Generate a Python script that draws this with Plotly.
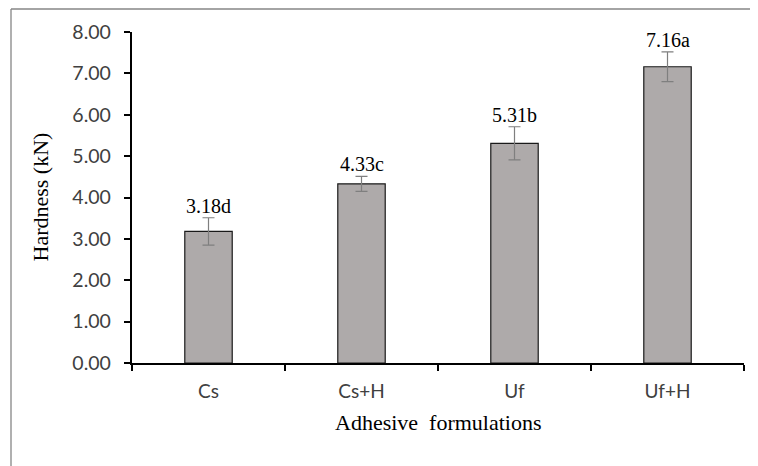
import plotly.graph_objects as go

categories = ["Cs", "Cs+H", "Uf", "Uf+H"]
hardness = [3.18, 4.33, 5.31, 7.16]
errors = [0.33, 0.18, 0.40, 0.36]
letters = ["d", "c", "b", "a"]
y_ticks = [0, 1, 2, 3, 4, 5, 6, 7, 8]

OFF = 8  # default page body margin
W, H = 758, 466
# desired plot area in page pixels
PX0, PX1, PY0, PY1 = 132, 744, 32, 363
ML = PX0 - OFF
MT = PY0 - OFF
MR = W - (PX1 - OFF)
MB = H - (PY1 - OFF)
pw = PX1 - PX0
ph = PY1 - PY0

fig = go.Figure()
fig.add_trace(go.Bar(
    x=categories, y=hardness,
    marker=dict(color="#AEAAAA", line=dict(color="#1a1a1a", width=1.2)),
    error_y=dict(type="data", array=errors, visible=True, color="#7f7f7f",
                 thickness=1.2, width=6),
    width=0.31,
))

for c, v, e, l in zip(categories, hardness, errors, letters):
    fig.add_annotation(x=c, y=v + e, text=f"{v:.2f}{l}", showarrow=False,
                       xref="x", yref="y", yanchor="bottom", yshift=-1,
                       font=dict(family="Liberation Serif", size=20, color="#000"))

fig.add_annotation(text="Hardness (kN)", x=0, y=0.5, xref="paper", yref="paper",
                   xanchor="center", yanchor="middle", xshift=-(PX0 - 40),
                   textangle=-90, showarrow=False,
                   font=dict(family="Liberation Serif", size=22, color="#000"))
fig.add_annotation(text="Adhesive  formulations", x=0.5, y=0, xref="paper", yref="paper",
                   xanchor="center", yanchor="middle", yshift=-(422 - PY1),
                   showarrow=False,
                   font=dict(family="Liberation Serif", size=22, color="#000"))

# outer chart border (left and top edges visible)
bx = (11 - PX0) / pw
by = (PY1 - 9) / ph
fig.add_shape(type="line", xref="paper", yref="paper", x0=bx, x1=1.2, y0=by, y1=by,
              line=dict(color="#868686", width=1.3))
fig.add_shape(type="line", xref="paper", yref="paper", x0=bx, x1=bx, y0=-0.5, y1=by,
              line=dict(color="#868686", width=1.3))

# y tick labels with an invisible trailing pad to push them away from the axis
pad = "<span style='color:rgba(255,255,255,0)'>..</span>"
y_text = [f"{v:.2f}{pad}" for v in y_ticks]

fig.update_layout(
    width=W, height=H,
    margin=dict(l=ML, r=MR, t=MT, b=MB),
    paper_bgcolor="white", plot_bgcolor="white",
    showlegend=False,
    font=dict(family="Lato", size=19, color="#404040"),
)
fig.update_xaxes(showline=True, linecolor="#000", linewidth=2, ticks="outside",
                 tickson="boundaries", ticklen=6, tickcolor="#000", tickwidth=2,
                 ticklabelstandoff=10,
                 showgrid=False, tickfont=dict(family="Lato", size=19, color="#404040"))
fig.update_yaxes(range=[0, 8], tickvals=y_ticks, ticktext=y_text,
                 showline=True, linecolor="#000", linewidth=2, ticks="outside",
                 ticklen=6, tickcolor="#000", tickwidth=2, showgrid=False,
                 zeroline=False,
                 tickfont=dict(family="Lato", size=19.5, color="#404040"))

fig.write_html("out.html")
